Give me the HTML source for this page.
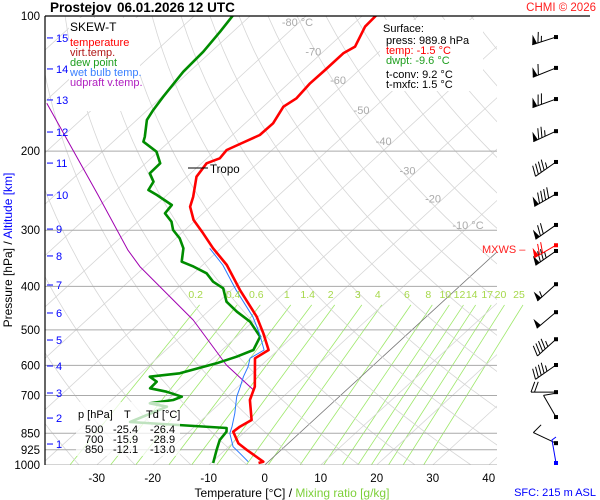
<!DOCTYPE html>
<html><head><meta charset="utf-8"><style>
body{margin:0;background:#fff;}
svg{display:block;font-family:"Liberation Sans",sans-serif;}
</style></head><body>
<svg id="c" width="600" height="500" viewBox="0 0 600 500" xmlns="http://www.w3.org/2000/svg">
<defs><clipPath id="pc"><rect x="45" y="16" width="452" height="449"/></clipPath><clipPath id="pm"><rect x="45" y="16" width="480" height="449"/></clipPath></defs>
<rect width="600" height="500" fill="#fff"/>
<g id="bgm" clip-path="url(#pm)"></g>
<g id="bg" clip-path="url(#pc)"></g>
<g id="series" clip-path="url(#pc)"></g>
<g id="over"></g>
</svg>
<script>
// ---- data ----
const tempP = [99.5,105.6,117.0,121.1,131.9,141.2,152.5,159.2,173.4,184.1,192.8,198.8,207.5,212.8,228.0,252.6,265.9,284.6,304.8,329.1,358.6,407.5,467.4,508.8,554.4,578.6,669.3,716.5,794.0,821.7,843.1,895,926,983,989.8];
const tempT = [-67.6,-67.4,-65.3,-66.1,-66.1,-66.2,-65.7,-66.4,-65.0,-65.1,-66.9,-68.1,-67.7,-69.1,-68.3,-65.0,-63.6,-60.4,-56.1,-51.4,-45.7,-38.5,-30.3,-25.9,-21.7,-22.5,-17.0,-15.3,-11.1,-11.9,-12.1,-8.9,-6.1,-0.9,-1.5];
const dewP = [99.5,108.4,120.1,133.1,151.3,162.0,170.4,185.8,190.5,200.6,212.8,224.0,233.9,244.1,250.4,263.6,275.0,287.1,299.7,312.7,329.1,352.5,361.6,374.1,390.6,404.1,432.8,455.6,479.6,517.8,554.4,573.8,593.6,624.9,635.8,652.3,674.8,686.6,704.5,716.5,728.9,741.7,802.2,827.3,843.1,879.9,926,983,989.8];
const dewT = [-93.2,-92.3,-91.4,-91.1,-89.8,-89.0,-88.2,-85.3,-84.6,-80.3,-77.4,-77.3,-75.0,-74.3,-71.8,-67.2,-66.8,-64.0,-62.1,-59.3,-56.7,-54.4,-51.3,-47.7,-44.9,-41.8,-38.6,-34.8,-30.5,-25.8,-24.4,-26.1,-28.4,-33.0,-37.7,-35.5,-35.4,-31.8,-28.1,-29.0,-32.5,-28.8,-32.4,-14.0,-13.3,-12.9,-11.5,-9.8,-9.6];
const wetP = [329.1,358.6,407.5,467.4,508.8,554.4,578.6,604,635.8,669.3,704.5,767.2,821.7,850.1,910.6,941.9,983];
const wetT = [-52.0,-46.4,-39.2,-31.0,-26.6,-22.5,-23.4,-22.1,-21.0,-19.6,-18.3,-15.4,-13.3,-12.4,-9.2,-6.7,-3.6];
const updP = [156.5,250,331.9,361.6,475.3,598.8,680.7];
const updT = [-109.3,-82.4,-66.3,-60.9,-41.0,-26.3,-16.6];
const windP = [111.4,130.5,153.1,180.5,211.4,249.0,292.0,333.7,395.7,456.7,524.7,598.8,688.2,782.0,894.0];
const windDir = [252,248,250,245,235,240,235,235,228,230,228,235,270,330,295];
const windSpd = [65,60,70,75,45,90,70,75,55,50,45,45,20,10,10];
const mixW = [0.2,0.4,0.6,1,1.4,2,3,4,6,8,10,12,14,17,20,25];
const mixLabels = ["0.2","0.4","0.6","1","1.4","2","3","4","6","8","10","12","14","17","20","25"];
const pLevels = [100,200,300,400,500,600,700,850,925,1000];
const pLabels = ["100","200","300","400","500","600","700","850","925","1000"];
const tTicks = [-30,-20,-10,0,10,20,30,40];
const altKm = [1,2,3,4,5,6,7,8,9,10,11,12,13,14,15];
const altP = [898,786,691.3,601.9,526.8,458.6,397.3,342.3,298.2,250.4,212.6,181.3,153.8,131.2,111.9];
const isoLabelT = [-80,-70,-60,-50,-40,-30,-20,-10];
const isoLabelP = [103,120,139,162,190,221,255,292];

// ---- axes ----
const Y = p => 16 + 449*Math.log10(p/100);
const X = (t,p) => 264.7 + 5.6*t + (465 - Y(p))*1.09;
const NS='http://www.w3.org/2000/svg';
function mk(tag, parent, attrs){const e=document.createElementNS(NS,tag);for(const k in attrs)e.setAttribute(k,attrs[k]);parent.appendChild(e);return e;}
const bg=document.getElementById('bg'), bgm=document.getElementById('bgm'), series=document.getElementById('series'), over=document.getElementById('over');

// isotherms
for(let t=-140;t<=40;t+=10){
  const l=mk('line',bg,{x1:X(t,1000),y1:Y(1000),x2:X(t,100),y2:Y(100),stroke:t===0?'#777':'#d6d6d6','stroke-width':0.8});
  
  
}
// dry adiabats
for(let th=230;th<=470;th+=10){
  let d='';
  for(let p=1000;p>=100;p-=10){const t=th*Math.pow(p/1000,0.286)-273.15;d+=(d?'L':'M')+X(t,p).toFixed(1)+','+Y(p).toFixed(1);}
  const a=mk('path',bg,{d:d,fill:'none',stroke:'#d6d6d6','stroke-width':0.8});
  
  
}
// mixing ratio lines
function tdFromW(w,p){const e=w*p/(622+w);const l=Math.log(e/6.112);return 243.5*l/(17.67-l);}
mixW.forEach((w,i)=>{
  const pt=440;
  const m=mk('line',bgm,{x1:X(tdFromW(w,1000),1000),y1:Y(1000),x2:X(tdFromW(w,pt),pt),y2:Y(pt),stroke:'#9ee86a','stroke-width':0.8});
  
  
  const tx=mk('text',over,{x:X(tdFromW(w,pt),pt)-4,y:298,'font-size':10.5,fill:'#a6d84a','text-anchor':'middle'});
  tx.textContent=mixLabels[i];
  
  
});
// isobars
pLevels.forEach((p,i)=>{
  if(p>100){const h=mk('line',bg,{x1:45,x2:497,y1:Y(p),y2:Y(p),stroke:'#aaa','stroke-width':1});
  
  }
  const t=mk('text',over,{x:40,y:Y(p)+4,'font-size':11.5,fill:'#000','text-anchor':'end'});
  t.textContent=pLabels[i];
  
  
});
// isotherm labels
isoLabelT.forEach((t,i)=>{
  const tx=mk('text',bg,{x:X(t,isoLabelP[i])-18,y:Y(isoLabelP[i])+4,'font-size':11,fill:'#aaa'});
  tx.textContent=(t===-80||t===-10)?(t+' °C'):String(t);
  
  
});

function poly(P,T,color,w,name){
  const d=P.map((p,i)=>(i?'L':'M')+X(T[i],p).toFixed(1)+','+Y(p).toFixed(1)).join('');
  const e=mk('path',series,{d:d,fill:'none',stroke:color,'stroke-width':w,'stroke-linejoin':'round'});
  
  
}
poly(updP,updT,'#a000b0',1,'updraft-virtual-temp-line');
poly(dewP,dewT,'#008c00',2.6,'dew-point-line');
poly(tempP,tempT,'#ff0000',2.6,'temperature-line');
poly(wetP,wetT,'#2a78ff',1,'wet-bulb-line');

// tropopause
const tro=mk('line',over,{x1:188,x2:208,y1:168,y2:168,stroke:'#000','stroke-width':1});


const trt=mk('text',over,{x:210,y:173,'font-size':11.5,fill:'#000'});trt.textContent='Tropo';



// temperature ticks
tTicks.forEach(t=>{
  const tx=mk('text',over,{x:X(t,1000),y:482,'font-size':11.5,fill:'#000','text-anchor':'middle'});
  tx.textContent=String(t);
  
  
});
// altitude
altKm.forEach((k,i)=>{
  const y=Y(altP[i]);
  const l=mk('line',over,{x1:47,x2:53,y1:y,y2:y,stroke:'#0000ff','stroke-width':1});
  
  
  const tx=mk('text',over,{x:56,y:y+4,'font-size':11,fill:'#0000ff'});
  tx.textContent=String(k);
  
  
});

// wind barbs
function barb(p,dir,spd,color){
  const cx=556, cy=Y(p);
  const r=dir*Math.PI/180, sx=Math.sin(r), sy=-Math.cos(r);
  const L=25, ex=cx+sx*L, ey=cy+sy*L;
  const g=mk('g',over,{});
  
  
  mk('line',g,{x1:cx,y1:cy,x2:ex,y2:ey,stroke:color,'stroke-width':1});
  mk('rect',g,{x:cx-2,y:cy-2,width:4,height:4,fill:color});
  const bx=-sy*0.94-sx*0.34, by=sx*0.94-sy*0.34;
  let s=Math.round(spd/5)*5, pos=0;
  while(s>=50){
    const ax=ex-sx*pos, ay=ey-sy*pos;
    mk('polygon',g,{points:`${ax},${ay} ${ax+bx*10},${ay+by*10} ${ax-sx*5},${ay-sy*5}`,fill:color});
    pos+=6; s-=50;
  }
  while(s>=10){const ax=ex-sx*pos, ay=ey-sy*pos;mk('line',g,{x1:ax,y1:ay,x2:ax+bx*11,y2:ay+by*11,stroke:color,'stroke-width':1});pos+=3.5;s-=10;}
  if(s>=5){if(pos===0)pos=3.5;const ax=ex-sx*pos, ay=ey-sy*pos;mk('line',g,{x1:ax,y1:ay,x2:ax+bx*6,y2:ay+by*6,stroke:color,'stroke-width':1});}
}
windP.forEach((p,i)=>barb(p,windDir[i],windSpd[i],'#000'));
barb(324,240,70,'#ff0000');
const sfc=mk('path',over,{d:'M556,463 L552,440 L556,437',stroke:'#0000ff',fill:'none','stroke-width':1});


mk('rect',over,{x:554,y:461,width:4,height:4,fill:'#0000ff'});
</script>
<svg width="600" height="500" style="position:absolute;left:0;top:0" xmlns="http://www.w3.org/2000/svg">
<line x1="45" y1="16" x2="590" y2="16" stroke="#000" stroke-width="1.2"/>
<line x1="45" y1="16" x2="45" y2="465" stroke="#000" stroke-width="1.2"/>
<text x="50" y="12" font-size="13.5" font-weight="bold" fill="#000" font-family="Liberation Sans, sans-serif">Prostejov<tspan x="117">06.01.2026 12 UTC</tspan></text>
<text x="596" y="11" font-size="11.5" fill="#ff2020" text-anchor="end" font-family="Liberation Sans, sans-serif">CHMI © 2026</text>
<g font-family="Liberation Sans, sans-serif">
<rect x="69" y="18" width="71" height="93" fill="#fff"/>
<text x="70" y="31" font-size="12" fill="#000">SKEW-T</text>
<text x="70" y="46" font-size="11" fill="#ff0000">temperature</text>
<text x="70" y="56" font-size="11" fill="#b01818">virt.temp.</text>
<text x="70" y="66" font-size="11" fill="#1e9e1e">dew point</text>
<text x="70" y="76" font-size="11" fill="#3a80ff">wet bulb temp.</text>
<text x="70" y="86" font-size="11" fill="#b020c0">udpraft v.temp.</text>
</g>
<g font-family="Liberation Sans, sans-serif" font-size="11">
<rect x="380" y="20" width="103" height="71" fill="#fff"/>
<text x="383" y="32" fill="#000">Surface:</text>
<text x="386" y="44" fill="#000">press: 989.8 hPa</text>
<text x="386" y="54" fill="#ff0000">temp: -1.5 °C</text>
<text x="386" y="64" fill="#1e9e1e">dwpt: -9.6 °C</text>
<text x="386" y="78" fill="#000">t-conv: 9.2 °C</text>
<text x="386" y="88" fill="#000">t-mxfc: 1.5 °C</text>
</g>
<g font-family="Liberation Sans, sans-serif" font-size="11" fill="#000">
<rect x="76" y="402" width="104" height="54" fill="#fff" fill-opacity="0.75"/>
<text x="78" y="418">p [hPa]</text><text x="124" y="418">T</text><text x="146" y="418">Td [°C]</text>
<text x="85" y="433">500</text><text x="113" y="433">-25.4</text><text x="150" y="433">-26.4</text>
<text x="85" y="443">700</text><text x="113" y="443">-15.9</text><text x="150" y="443">-28.9</text>
<text x="85" y="453">850</text><text x="113" y="453">-12.1</text><text x="150" y="453">-13.0</text>
</g>
<text x="482" y="253" font-size="11" fill="#ff2020" font-family="Liberation Sans, sans-serif">MXWS –</text>
<text x="292" y="497" font-size="12" text-anchor="middle" font-family="Liberation Sans, sans-serif"><tspan fill="#000">Temperature [°C]  /  </tspan><tspan fill="#7ed03a">Mixing ratio [g/kg]</tspan></text>
<text transform="translate(12,250) rotate(-90)" font-size="12" text-anchor="middle" font-family="Liberation Sans, sans-serif"><tspan fill="#000">Pressure [hPa]  /  </tspan><tspan fill="#0000ff">Altitude [km]</tspan></text>
<text x="596" y="496" font-size="11" fill="#0000ff" text-anchor="end" font-family="Liberation Sans, sans-serif">SFC: 215 m ASL</text>
</svg>
</body></html>
